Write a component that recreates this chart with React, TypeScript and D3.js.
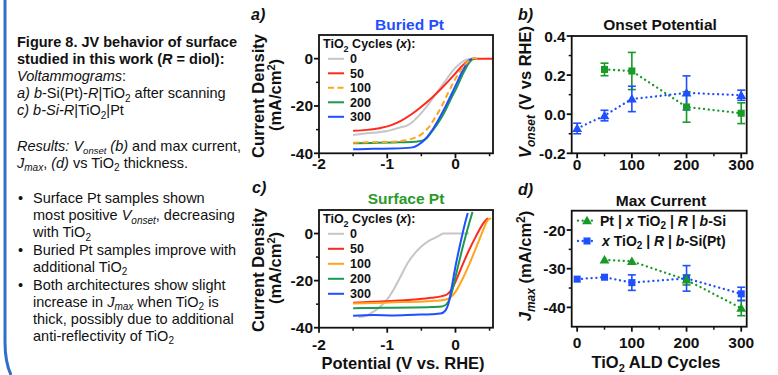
import React from "react";
import * as d3 from "d3";

const SANS = "'Liberation Sans', Arial, Helvetica, sans-serif";

type P = [number, number];

// ---- JV curves, panel a (Buried Pt): [V vs RHE, mA/cm2]
const buried0: P[] = [[-1.5,-32.3],[-1.4,-31.9],[-1.3,-31.5],[-1.2,-31.3],[-1.1,-31.0],[-1.0,-30.6],[-0.9,-29.8],[-0.8,-29.0],[-0.72,-28.4],[-0.65,-27.2],[-0.55,-24.5],[-0.45,-21.2],[-0.35,-17.5],[-0.25,-13.5],[-0.15,-9.5],[-0.05,-5.5],[0.05,-2.5],[0.12,-0.9],[0.2,-0.1],[0.26,0]];
const buried50: P[] = [[-1.5,-30.5],[-1.3,-30.1],[-1.1,-29.3],[-0.95,-28.2],[-0.8,-26.3],[-0.65,-23.6],[-0.5,-20.3],[-0.35,-16.6],[-0.2,-12.4],[-0.1,-9.4],[0,-6.2],[0.1,-3.0],[0.18,-1.0],[0.25,-0.1],[0.3,0],[0.55,0]];
const buried100: P[] = [[-1.5,-35.5],[-1.2,-35.3],[-0.9,-35.1],[-0.75,-34.6],[-0.6,-33.5],[-0.5,-32.0],[-0.4,-29.3],[-0.3,-25],[-0.2,-20],[-0.1,-14],[0,-8.5],[0.1,-4],[0.2,-0.8],[0.27,0.3],[0.32,0]];
const buried200: P[] = [[-1.5,-35.7],[-1.2,-35.6],[-0.9,-35.4],[-0.6,-35.1],[-0.5,-34.8],[-0.42,-33.5],[-0.35,-31],[-0.25,-27],[-0.15,-22],[-0.05,-16],[0,-13.3],[0.1,-7],[0.2,-1.8],[0.25,-0.3],[0.3,0]];
const buried300: P[] = [[-1.5,-38.3],[-1.2,-38.1],[-0.9,-38.0],[-0.65,-37.6],[-0.55,-36.5],[-0.45,-34.3],[-0.35,-30.6],[-0.25,-25.8],[-0.15,-20.5],[-0.05,-14.5],[0,-11.5],[0.1,-5.4],[0.2,-0.8],[0.25,0]];

// ---- JV curves, panel c (Surface Pt)
const surface0: P[] = [[-1.42,-35.5],[-1.3,-34.8],[-1.2,-33.2],[-1.1,-31],[-1.0,-28],[-0.9,-23.5],[-0.8,-18],[-0.7,-12.5],[-0.6,-8.5],[-0.5,-5.5],[-0.4,-3.3],[-0.3,-1.8],[-0.22,-0.6],[-0.18,0],[0.2,0]];
const surface50: P[] = [[-1.5,-29.4],[-1.2,-29.0],[-0.9,-28.6],[-0.6,-28.0],[-0.35,-27.3],[-0.2,-26.6],[-0.12,-25.8],[-0.05,-23.5],[0,-20.5],[0.1,-13.5],[0.2,-7],[0.3,-1.2],[0.4,4],[0.45,5.9],[0.48,6.4]];
const surface100: P[] = [[-1.5,-29.7],[-1.2,-29.5],[-0.9,-29.2],[-0.6,-29],[-0.3,-28.6],[-0.15,-28.1],[-0.08,-27.2],[0,-24.8],[0.1,-19.5],[0.2,-13.2],[0.3,-6.2],[0.4,1],[0.46,5],[0.5,6.4],[0.52,6.1]];
const surface200: P[] = [[-1.5,-31.7],[-1.2,-31.6],[-0.9,-31.5],[-0.6,-31.4],[-0.35,-31.2],[-0.2,-31],[-0.13,-30],[-0.08,-27.5],[-0.04,-23.5],[0,-18.5],[0.05,-12.4],[0.1,-6.5],[0.15,-0.9],[0.2,4.3],[0.25,9.2]];
const surface300: P[] = [[-1.5,-34.9],[-1.2,-34.6],[-0.9,-34.8],[-0.6,-34.5],[-0.35,-34.3],[-0.22,-34],[-0.15,-32.8],[-0.1,-29.5],[-0.05,-22],[0,-14],[0.05,-7],[0.1,-0.5],[0.15,5.5],[0.18,8.7]];

const cycleLabels = ["0", "50", "100", "200", "300"];

// ---- panel b: onset potential (V vs RHE)
const onsetBuriedX = [0, 50, 100, 200, 300];
const onsetBuried = [-0.073, -0.007, 0.078, 0.109, 0.097];
const onsetBuriedErr = [0.027, 0.027, 0.065, 0.087, 0.026];
const onsetSurfaceX = [50, 100, 200, 300];
const onsetSurface = [0.229, 0.221, 0.037, 0.005];
const onsetSurfaceErr = [0.032, 0.095, 0.078, 0.053];

// ---- panel d: max current (mA/cm2)
const jmaxSurfaceX = [50, 100, 200, 300];
const jmaxSurface = [-27.7, -28.1, -32.9, -40.2];
const jmaxSurfaceErr = [0, 0, 1.3, 1.95];
const jmaxBuriedX = [0, 50, 100, 200, 300];
const jmaxBuried = [-32.7, -32.2, -33.6, -32.5, -36.5];
const jmaxBuriedErr = [0, 0, 2.0, 3.3, 1.7];

const jvTicksX = [-2, -1, 0];
const jvTicksXLabels = ["-2", "-1", "0"];
const jvTicksY = [0, -20, -40];
const jvTicksYLabels = ["0", "-20", "-40"];
const cycTicks = [0, 100, 200, 300];
const cycTickLabels = ["0", "100", "200", "300"];
const onsetTicks = [0.4, 0.2, 0, -0.2];
const onsetTickLabels = ["0.4", "0.2", "0.0", "-0.2"];
const jmaxTicks = [-20, -30, -40];
const jmaxTickLabels = ["-20", "-30", "-40"];

const GRAY = "#c6c6c6";
const RED = "#ff2a1f";
const ORANGE = "#ffa41c";
const JVGREEN = "#1e9a4e";
const BLUE = "#1f4fff";
const GREEN = "#179a26";
const cycleColors = [GRAY, RED, ORANGE, JVGREEN, BLUE];

type Lin = d3.ScaleLinear<number, number>;
type Seg = { t: string; i?: boolean; s?: "sub" | "sup" };

// text with italic / sub / sup runs
function Rich(props: { x?: number; y?: number; transform?: string; segs: Seg[]; small?: number; sub?: number; sup?: number; anchor?: string; weight?: string; size?: number }) {
  const { segs, small = 10, sub = 3.5, sup = -6 } = props;
  let level = 0;
  return (
    <text x={props.x} y={props.y} transform={props.transform} textAnchor={props.anchor} fontWeight={props.weight} fontSize={props.size}>
      {segs.map((s, k) => {
        const target = s.s === "sub" ? sub : s.s === "sup" ? sup : 0;
        const dy = target - level;
        level = target;
        return (
          <tspan key={k} dy={dy !== 0 ? dy : undefined} fontSize={s.s ? small : undefined} fontStyle={s.i ? "italic" : undefined}>{s.t}</tspan>
        );
      })}
    </text>
  );
}

function Frame(props: {
  xs: Lin; ys: Lin; xt: number[]; xl: string[]; xm: number[];
  yt: number[]; yl: string[]; ym: number[]; xGap: number;
}) {
  const { xs, ys, xt, xl, xm, yt, yl, ym, xGap } = props;
  const [x0, x1] = xs.range();
  const [yb, ytop] = ys.range();
  return (
    <g fontFamily={SANS} fontWeight="bold" fontSize={15.5} fill="#111">
      <rect x={x0} y={ytop} width={x1 - x0} height={yb - ytop} fill="none" stroke="#111" strokeWidth={1.8} />
      {xt.map((t, i) => (
        <g key={"x" + i}>
          <line x1={xs(t)} x2={xs(t)} y1={yb} y2={yb + 5} stroke="#111" strokeWidth={1.8} />
          <text x={xs(t)} y={yb + xGap} textAnchor="middle">{xl[i]}</text>
        </g>
      ))}
      {xm.map((t, i) => (
        <line key={"xm" + i} x1={xs(t)} x2={xs(t)} y1={yb} y2={yb + 3} stroke="#111" strokeWidth={1.5} />
      ))}
      {yt.map((t, i) => (
        <g key={"y" + i}>
          <line x1={x0 - 5} x2={x0} y1={ys(t)} y2={ys(t)} stroke="#111" strokeWidth={1.8} />
          <text x={x0 - 6} y={ys(t) + 5.5} textAnchor="end">{yl[i]}</text>
        </g>
      ))}
      {ym.map((t, i) => (
        <line key={"ym" + i} x1={x0 - 3} x2={x0} y1={ys(t)} y2={ys(t)} stroke="#111" strokeWidth={1.5} />
      ))}
    </g>
  );
}

function JVPanel(props: { curves: P[][]; order: number[]; top: number; bottom: number; legendY: number; legendStep: number; dashed: number }) {
  const { curves, order, top, bottom, legendY, legendStep, dashed } = props;
  const xs = d3.scaleLinear().domain([-2, 0.55]).range([319, 493]);
  const ys = d3.scaleLinear().domain([-40, 10]).range([bottom, top]);
  const line = d3.line<P>().x(d => xs(d[0])).y(d => ys(d[1])).curve(d3.curveMonotoneX);
  return (
    <g>
      {order.map(i => (
        <path key={i} d={line(curves[i]) || ""} fill="none" stroke={cycleColors[i]} strokeWidth={2}
          strokeDasharray={i === dashed ? "6 3.5" : undefined} />
      ))}
      <Frame xs={xs} ys={ys} xt={jvTicksX} xl={jvTicksXLabels} xm={[-1.5, -0.5, 0.5]}
        yt={jvTicksY} yl={jvTicksYLabels} ym={[-30, -10]} xGap={bottom > 300 ? 22 : 16} />
      <g fontFamily={SANS} fontWeight="bold" fontSize={12.5} fill="#111">
        <Rich x={323} y={legendY} small={9} segs={[{ t: "TiO" }, { t: "2", s: "sub" }, { t: " Cycles (" }, { t: "x", i: true }, { t: "):" }]} />
        {cycleLabels.map((c, i) => (
          <g key={c}>
            <line x1={328} x2={344} y1={legendY + 10.5 + i * legendStep} y2={legendY + 10.5 + i * legendStep}
              stroke={cycleColors[i]} strokeWidth={2} strokeDasharray={i === dashed ? "6 3.5" : undefined} />
            <text x={350} y={legendY + 15 + i * legendStep}>{c}</text>
          </g>
        ))}
      </g>
    </g>
  );
}

function Dots(props: { xs: Lin; ys: Lin; x: number[]; y: number[]; color: string }) {
  const { xs, ys, x, y, color } = props;
  const pts: P[] = x.map((v, i) => [v, y[i]]);
  const line = d3.line<P>().x(d => xs(d[0])).y(d => ys(d[1]));
  return <path d={line(pts) || ""} fill="none" stroke={color} strokeWidth={2.3} strokeLinecap="round" strokeDasharray="0.1 4.7" />;
}

function ErrBars(props: { xs: Lin; ys: Lin; x: number[]; y: number[]; e: number[]; color: string }) {
  const { xs, ys, x, y, e, color } = props;
  return (
    <g stroke={color} strokeWidth={1.6}>
      {x.map((v, i) => e[i] > 0 ? (
        <g key={i}>
          <line x1={xs(v)} x2={xs(v)} y1={ys(y[i] - e[i])} y2={ys(y[i] + e[i])} />
          <line x1={xs(v) - 4} x2={xs(v) + 4} y1={ys(y[i] - e[i])} y2={ys(y[i] - e[i])} />
          <line x1={xs(v) - 4} x2={xs(v) + 4} y1={ys(y[i] + e[i])} y2={ys(y[i] + e[i])} />
        </g>
      ) : null)}
    </g>
  );
}

function Marks(props: { xs: Lin; ys: Lin; x: number[]; y: number[]; color: string; shape: "sq" | "tri" }) {
  const { xs, ys, x, y, color, shape } = props;
  const sym = d3.symbol().type(shape === "sq" ? d3.symbolSquare : d3.symbolTriangle).size(shape === "sq" ? 50 : 42);
  return (
    <g fill={color}>
      {x.map((v, i) => (
        <path key={i} d={sym() || ""} transform={`translate(${xs(v)},${ys(y[i]) + (shape === "tri" ? 0.8 : 0)})`} />
      ))}
    </g>
  );
}

export default function App() {
  const xb = d3.scaleLinear().domain([-10, 310]).range([571.7, 746.7]);
  const yb = d3.scaleLinear().domain([-0.2, 0.4]).range([153.3, 36]);
  const yd = d3.scaleLinear().domain([-45, -15]).range([326.7, 210.7]);
  const tri = d3.symbol().type(d3.symbolTriangle).size(42)() || "";
  const sq = d3.symbol().type(d3.symbolSquare).size(50)() || "";
  const two: Seg = { t: "2", s: "sub" };

  return (
    <svg width={778} height={375} style={{ position: "absolute", left: 0, top: 0, background: "#fff" }}>
      <rect width={778} height={375} fill="#fff" />
      <path d="M5,0 L5,342 Q5,362 11,375" fill="none" stroke="#2f6fcc" strokeWidth={3} />

      {/* left text */}
      <g fontFamily={SANS} fontSize={14.5} fill="#111">
        <text x={17} y={46.7} fontWeight="bold">Figure 8. JV behavior of surface</text>
        <Rich x={17} y={64} weight="bold" segs={[{ t: "studied in this work (" }, { t: "R", i: true }, { t: " = diol):" }]} />
        <Rich x={17} y={81} segs={[{ t: "Voltammograms", i: true }, { t: ":" }]} />
        <Rich x={17} y={98} segs={[{ t: "a) b", i: true }, { t: "-Si(Pt)-" }, { t: "R", i: true }, { t: "|TiO" }, two, { t: " after scanning" }]} />
        <Rich x={17} y={115} segs={[{ t: "c) b-Si-R", i: true }, { t: "|TiO" }, two, { t: "|Pt" }]} />
        <Rich x={17} y={150.7} sub={3} small={9.5} segs={[{ t: "Results: V", i: true }, { t: "onset", i: true, s: "sub" }, { t: " (b)", i: true }, { t: " and max current," }]} />
        <Rich x={17} y={167.5} segs={[{ t: "J", i: true }, { t: "max", i: true, s: "sub" }, { t: "," }, { t: " (d)", i: true }, { t: " vs TiO" }, two, { t: " thickness." }]} />
        {[203.3, 255, 290].map(y => <text key={y} x={18} y={y}>•</text>)}
        <text x={33} y={203.3}>Surface Pt samples shown</text>
        <Rich x={33} y={220} segs={[{ t: "most positive " }, { t: "V", i: true }, { t: "onset", i: true, s: "sub" }, { t: ", decreasing" }]} />
        <Rich x={33} y={237} segs={[{ t: "with TiO" }, two]} />
        <text x={33} y={255}>Buried Pt samples improve with</text>
        <Rich x={33} y={271.7} segs={[{ t: "additional TiO" }, two]} />
        <text x={33} y={290}>Both architectures show slight</text>
        <Rich x={33} y={306.7} segs={[{ t: "increase in " }, { t: "J", i: true }, { t: "max", i: true, s: "sub" }, { t: " when TiO" }, two, { t: " is" }]} />
        <text x={33} y={324}>thick, possibly due to additional</text>
        <Rich x={33} y={340.7} segs={[{ t: "anti-reflectivity of TiO" }, two]} />
      </g>

      {/* panel a */}
      <JVPanel curves={[buried0, buried50, buried100, buried200, buried300]} order={[0, 1, 3, 4, 2]}
        top={35} bottom={153.3} legendY={48.3} legendStep={14.5} dashed={2} />
      {/* panel c */}
      <JVPanel curves={[surface0, surface50, surface100, surface200, surface300]} order={[0, 1, 2, 3, 4]}
        top={210} bottom={327.7} legendY={223.3} legendStep={15} dashed={-1} />

      {/* panel b */}
      <Dots xs={xb} ys={yb} x={onsetSurfaceX} y={onsetSurface} color={GREEN} />
      <Dots xs={xb} ys={yb} x={onsetBuriedX} y={onsetBuried} color={BLUE} />
      <ErrBars xs={xb} ys={yb} x={onsetSurfaceX} y={onsetSurface} e={onsetSurfaceErr} color={GREEN} />
      <ErrBars xs={xb} ys={yb} x={onsetBuriedX} y={onsetBuried} e={onsetBuriedErr} color={BLUE} />
      <Marks xs={xb} ys={yb} x={onsetSurfaceX} y={onsetSurface} color={GREEN} shape="sq" />
      <Marks xs={xb} ys={yb} x={onsetBuriedX} y={onsetBuried} color={BLUE} shape="tri" />
      <Frame xs={xb} ys={yb} xt={cycTicks} xl={cycTickLabels} xm={[50, 150, 250]}
        yt={onsetTicks} yl={onsetTickLabels} ym={[0.3, 0.1, -0.1]} xGap={17} />

      {/* panel d */}
      <Dots xs={xb} ys={yd} x={jmaxSurfaceX} y={jmaxSurface} color={GREEN} />
      <Dots xs={xb} ys={yd} x={jmaxBuriedX} y={jmaxBuried} color={BLUE} />
      <ErrBars xs={xb} ys={yd} x={jmaxSurfaceX} y={jmaxSurface} e={jmaxSurfaceErr} color={GREEN} />
      <ErrBars xs={xb} ys={yd} x={jmaxBuriedX} y={jmaxBuried} e={jmaxBuriedErr} color={BLUE} />
      <Marks xs={xb} ys={yd} x={jmaxBuriedX} y={jmaxBuried} color={BLUE} shape="sq" />
      <Marks xs={xb} ys={yd} x={jmaxSurfaceX} y={jmaxSurface} color={GREEN} shape="tri" />
      <Frame xs={xb} ys={yd} xt={cycTicks} xl={cycTickLabels} xm={[50, 150, 250]}
        yt={jmaxTicks} yl={jmaxTickLabels} ym={[-25, -35]} xGap={21.7} />

      {/* legend d */}
      <g fontFamily={SANS} fontWeight="bold" fontSize={14} fill="#111">
        <line x1={578} x2={596} y1={220.7} y2={220.7} stroke={GREEN} strokeWidth={2.3} strokeLinecap="round" strokeDasharray="0.1 4.5" />
        <path d={tri} fill={GREEN} transform="translate(587,221.5)" />
        <Rich x={600} y={225.5} segs={[{ t: "Pt | " }, { t: "x", i: true }, { t: " TiO" }, two, { t: " | " }, { t: "R", i: true }, { t: " | " }, { t: "b", i: true }, { t: "-Si" }]} />
        <line x1={578} x2={596} y1={241} y2={241} stroke={BLUE} strokeWidth={2.3} strokeLinecap="round" strokeDasharray="0.1 4.5" />
        <path d={sq} fill={BLUE} transform="translate(587,241)" />
        <Rich x={602} y={245.5} segs={[{ t: "x", i: true }, { t: " TiO" }, two, { t: " | " }, { t: "R", i: true }, { t: " | " }, { t: "b", i: true }, { t: "-Si(Pt)" }]} />
      </g>

      {/* titles, axis titles, panel letters */}
      <g fontFamily={SANS} fontWeight="bold" fill="#111">
        <text x={409.5} y={30} fontSize={15.5} textAnchor="middle" fill={BLUE}>Buried Pt</text>
        <text x={406} y={204} fontSize={15.5} textAnchor="middle" fill="#2a9a2a">Surface Pt</text>
        <text x={660} y={30} fontSize={15.5} textAnchor="middle">Onset Potential</text>
        <text x={661} y={206} fontSize={15.5} textAnchor="middle">Max Current</text>

        <g fontStyle="italic" fontSize={16}>
          <text x={251} y={20}>a)</text>
          <text x={518} y={19.5}>b)</text>
          <text x={252} y={193}>c)</text>
          <text x={518} y={195}>d)</text>
        </g>

        <g fontSize={16.5}>
          <text transform="translate(263.5,96) rotate(-90)" textAnchor="middle">Current Density</text>
          <Rich transform="translate(281,95) rotate(-90)" anchor="middle" small={11} segs={[{ t: "(mA/cm" }, { t: "2", s: "sup" }, { t: ")" }]} />
          <text transform="translate(263.5,270) rotate(-90)" textAnchor="middle">Current Density</text>
          <Rich transform="translate(281,268) rotate(-90)" anchor="middle" small={11} segs={[{ t: "(mA/cm" }, { t: "2", s: "sup" }, { t: ")" }]} />
          <Rich transform="translate(531,92) rotate(-90)" anchor="middle" small={12} sub={4} segs={[{ t: "V", i: true }, { t: "onset", i: true, s: "sub" }, { t: " (V vs RHE)" }]} />
          <Rich transform="translate(531,266) rotate(-90)" anchor="middle" small={12} sub={4} segs={[{ t: "J", i: true }, { t: "max", i: true, s: "sub" }, { t: " (mA/cm" }, { t: "2", s: "sup" }, { t: ")" }]} />
          <text x={403} y={369} textAnchor="middle">Potential (V vs. RHE)</text>
          <Rich x={656} y={368.3} anchor="middle" small={11} sub={4} segs={[{ t: "TiO" }, { t: "2", s: "sub" }, { t: " ALD Cycles" }]} />
        </g>
      </g>
    </svg>
  );
}
